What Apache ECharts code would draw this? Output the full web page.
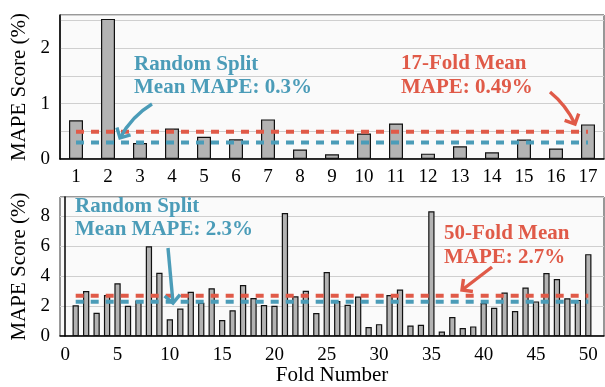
<!DOCTYPE html>
<html><head><meta charset="utf-8">
<script src="https://cdn.jsdelivr.net/npm/echarts@6/dist/echarts.min.js"></script>
<style>html,body{margin:0;padding:0;background:#fff}#c{width:605px;height:387px}</style>
</head><body><div id="c"></div>
<script>
// ---------- data ----------
const topFolds = ['1','2','3','4','5','6','7','8','9','10','11','12','13','14','15','16','17'];
const topMape = [0.70, 2.53, 0.29, 0.55, 0.40, 0.355, 0.715, 0.17, 0.085, 0.46, 0.64, 0.097, 0.23, 0.12, 0.35, 0.19, 0.625];
const topKFoldMean = 0.49;
const topRandomMean = 0.3;
const topYTicks = [0, 1, 2];

const bottomFolds = [1,2,3,4,5,6,7,8,9,10,11,12,13,14,15,16,17,18,19,20,21,22,23,24,25,26,27,28,29,30,31,32,33,34,35,36,37,38,39,40,41,42,43,44,45,46,47,48,49,50];
const bottomMape = [2.06,3.01,1.56,2.75,3.53,2.03,2.38,6.00,4.24,1.13,1.84,2.97,2.23,3.20,1.08,1.73,
  3.42,2.55,2.08,2.03,8.23,2.66,3.03,1.54,4.29,2.34,2.10,2.64,0.61,0.80,2.75,3.12,0.71,0.76,
  8.35,0.30,1.28,0.54,0.65,2.21,1.90,2.92,1.67,3.25,2.32,4.22,3.81,2.53,2.42,5.48];
const bottomKFoldMean = 2.7;
const bottomRandomMean = 2.3;
const bottomXTicks = [0,5,10,15,20,25,30,35,40,45,50];
const bottomYTicks = [0, 2, 4, 6, 8];

// ---------- style ----------
const BLUE = '#4B9CB8', RED = '#E05A48';
const SERIF = '"Liberation Serif", "DejaVu Serif", serif';
const dash = {width: 4, type: [8, 7], cap: 'butt'};

const chart = echarts.init(document.getElementById('c'), null, {renderer: 'canvas'});

const axisLbl = {color: '#000', fontFamily: SERIF, fontSize: 19};
const option = {
  animation: false,
  backgroundColor: '#fff',
  grid: [
    {left: 60, top: 15, width: 544, height: 144, show: true, backgroundColor: '#fafafa', borderColor: '#333', borderWidth: 1},
    {left: 60, top: 197, width: 544, height: 143, show: true, backgroundColor: '#fafafa', borderColor: '#333', borderWidth: 1}
  ],
  xAxis: [
    {type: 'category', gridIndex: 0, data: topFolds, boundaryGap: true,
     axisLine: {lineStyle: {color: '#000', width: 1.5}}, axisTick: {show: false},
     axisLabel: Object.assign({margin: 9}, axisLbl)},
    {type: 'value', gridIndex: 1, min: -0.5, max: 51.5,
     axisLine: {onZero: false, lineStyle: {color: '#000', width: 1.5}}, axisTick: {show: false},
     splitLine: {show: false},
     axisLabel: Object.assign({margin: 9, customValues: bottomXTicks}, axisLbl),
     name: 'Fold Number', nameLocation: 'middle', nameGap: 26,
     nameTextStyle: {color: '#000', fontFamily: SERIF, fontSize: 21}}
  ],
  yAxis: [
    {type: 'value', gridIndex: 0, min: 0, max: 2.6,
     axisLine: {show: true, lineStyle: {color: '#000', width: 1.5}}, axisTick: {show: false},
     splitLine: {lineStyle: {color: '#cfcfcf', width: 1}},
     axisLabel: Object.assign({margin: 10, customValues: topYTicks}, axisLbl),
     name: 'MAPE Score (%)', nameLocation: 'middle', nameGap: 23, nameRotate: 90,
     nameTextStyle: {color: '#000', fontFamily: SERIF, fontSize: 21}},
    {type: 'value', gridIndex: 1, min: 0, max: 9.3,
     axisLine: {show: true, lineStyle: {color: '#000', width: 1.5}}, axisTick: {show: false},
     splitLine: {lineStyle: {color: '#cfcfcf', width: 1}},
     axisLabel: Object.assign({margin: 10, customValues: bottomYTicks}, axisLbl),
     name: 'MAPE Score (%)', nameLocation: 'middle', nameGap: 23, nameRotate: 90,
     nameTextStyle: {color: '#000', fontFamily: SERIF, fontSize: 21}}
  ],
  series: [
    {type: 'bar', xAxisIndex: 0, yAxisIndex: 0, data: topMape, barWidth: 14,
     itemStyle: {color: '#b3b3b3', borderColor: '#111', borderWidth: 1.2}},
    {type: 'line', xAxisIndex: 0, yAxisIndex: 0, symbol: 'none', z: 5,
     data: [[topFolds[0], topKFoldMean], [topFolds[topFolds.length - 1], topKFoldMean]],
     lineStyle: Object.assign({color: RED}, dash)},
    {type: 'line', xAxisIndex: 0, yAxisIndex: 0, symbol: 'none', z: 5,
     data: [[topFolds[0], topRandomMean], [topFolds[topFolds.length - 1], topRandomMean]],
     lineStyle: Object.assign({color: BLUE}, dash)},
    {type: 'bar', xAxisIndex: 1, yAxisIndex: 1, barWidth: 6.3,
     data: bottomFolds.map((f, i) => [f, bottomMape[i]]),
     itemStyle: {color: '#b3b3b3', borderColor: '#111', borderWidth: 1.2}},
    {type: 'line', xAxisIndex: 1, yAxisIndex: 1, symbol: 'none', z: 5,
     data: [[bottomFolds[0], bottomKFoldMean], [bottomFolds[bottomFolds.length - 1], bottomKFoldMean]],
     lineStyle: Object.assign({color: RED}, dash)},
    {type: 'line', xAxisIndex: 1, yAxisIndex: 1, symbol: 'none', z: 5,
     data: [[bottomFolds[0], bottomRandomMean], [bottomFolds[bottomFolds.length - 1], bottomRandomMean]],
     lineStyle: Object.assign({color: BLUE}, dash)}
  ]
};

// ---------- annotations ----------
const FONT = 'bold 21px ' + SERIF;
function txt(x, y, s, color) {
  return {type: 'text', x: x, y: y, z: 20,
    style: {text: s, fill: color, font: FONT, textAlign: 'left', textVerticalAlign: 'middle'}};
}
function arrow(p0, c, p2, color) {
  const els = [];
  if (c) {
    els.push({type: 'bezierCurve', z: 20,
      shape: {x1: p0[0], y1: p0[1], cpx1: c[0], cpy1: c[1], x2: p2[0], y2: p2[1]},
      style: {stroke: color, lineWidth: 3.4, fill: null}});
  } else {
    els.push({type: 'line', z: 20,
      shape: {x1: p0[0], y1: p0[1], x2: p2[0], y2: p2[1]},
      style: {stroke: color, lineWidth: 3.4}});
  }
  const from = c || p0;
  let dx = p2[0] - from[0], dy = p2[1] - from[1];
  const L = Math.hypot(dx, dy); dx /= L; dy /= L;
  const len = 11, a = Math.PI / 4;
  const bx = -dx, by = -dy;
  const r = (ang) => [p2[0] + len * (bx * Math.cos(ang) - by * Math.sin(ang)),
                      p2[1] + len * (bx * Math.sin(ang) + by * Math.cos(ang))];
  els.push({type: 'polyline', z: 20,
    shape: {points: [r(a), p2, r(-a)]},
    style: {stroke: color, lineWidth: 3.4, fill: null, lineJoin: 'miter'}});
  return els;
}

option.graphic = [].concat(
  [txt(134, 65, 'Random Split', BLUE), txt(134, 88, 'Mean MAPE: 0.3%', BLUE),
   txt(401, 64, '17-Fold Mean', RED), txt(401, 88, 'MAPE: 0.49%', RED),
   txt(75, 207, 'Random Split', BLUE), txt(75, 230, 'Mean MAPE: 2.3%', BLUE),
   txt(444, 234, '50-Fold Mean', RED), txt(444, 258, 'MAPE: 2.7%', RED)],
  arrow([152, 104], [132, 116], [120, 138], BLUE),
  arrow([550, 92], [566, 105], [575, 124], RED),
  arrow([168, 248], null, [173, 303], BLUE),
  arrow([492, 267], null, [462, 290], RED)
);

chart.setOption(option);
</script></body></html>
